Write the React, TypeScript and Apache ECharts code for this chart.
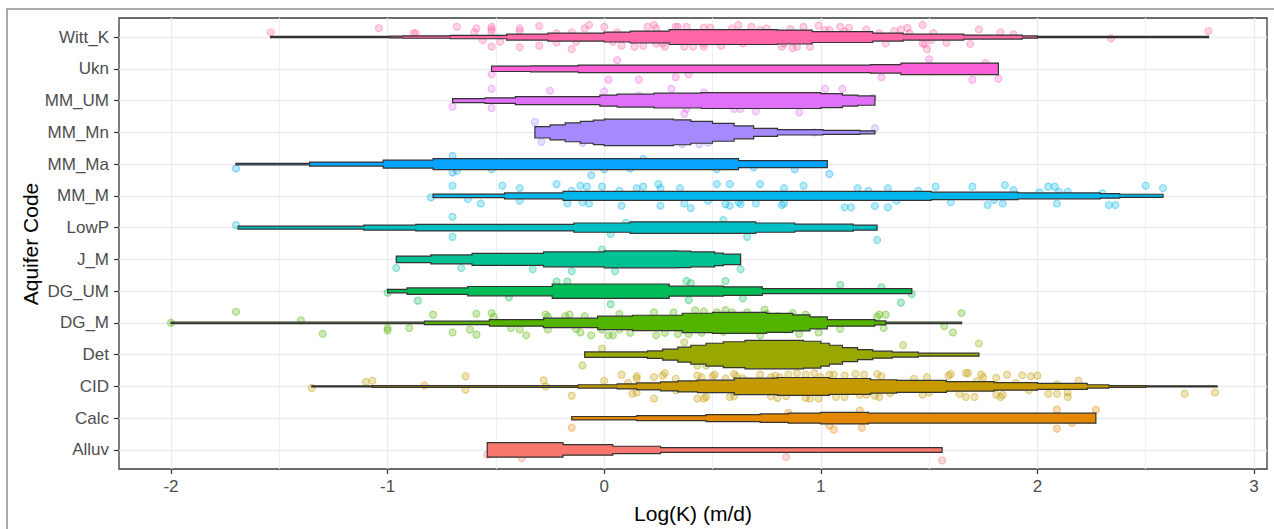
import React, { useEffect, useRef } from "react";
import * as echarts from "echarts";

// Aquifer codes, bottom to top
const categories = ["Alluv", "Calc", "CID", "Det", "DG_M", "DG_UM", "J_M", "LowP", "MM_M", "MM_Ma", "MM_Mn", "MM_UM", "Ukn", "Witt_K"];
const colors = ["#F8766D", "#E38900", "#C49A00", "#99A800", "#53B400", "#00BC56", "#00C094", "#00BFC4", "#00B6EB", "#06A4FF", "#A58AFF", "#DF70F8", "#FB61D7", "#FF66A8"];
const xTicks = [-2, -1, 0, 1, 2, 3];
const xMinor = [-1.5, -0.5, 0.5, 1.5, 2.5];

// Violin outlines: [log K, half width in 1/32 of a category step], held until the next knot
const violinAlluv = [[-0.54, 7.3], [-0.19, 5.3], [0.04, 3.7], [0.26, 2.4], [1.56, 0]];
const violinCalc = [[-0.15, 1.7], [0.15, 2.5], [0.47, 3.5], [0.72, 4.3], [0.85, 5], [1.0, 5.8], [1.22, 5], [2.27, 0]];
const violinCID = [[-1.35, 0.6], [-1.07, 0.9], [-0.12, 1.7], [0.06, 2.5], [0.15, 3.5], [0.26, 4.5], [0.34, 5.5], [0.43, 6.3], [0.6, 8.3], [0.8, 9], [1.04, 8], [1.23, 6.7], [1.35, 6], [1.58, 4.8], [1.8, 3.8], [2.0, 3], [2.23, 1.7], [2.33, 0.9], [2.5, 0.6], [2.83, 0]];
const violinDet = [[-0.09, 2.8], [0.2, 3.8], [0.27, 5.5], [0.34, 7.5], [0.4, 9.5], [0.47, 11.5], [0.55, 13], [0.65, 14.3], [0.92, 13.5], [1.0, 11.5], [1.04, 9.5], [1.1, 7], [1.17, 5], [1.24, 3.5], [1.33, 2.5], [1.45, 1.5], [1.73, 0]];
const violinDG_M = [[-2.0, 0.7], [-0.83, 1.7], [-0.53, 3.3], [-0.28, 4.8], [-0.03, 6.8], [0.13, 7.7], [0.36, 9.7], [0.5, 10.6], [0.75, 9.5], [0.87, 8], [0.95, 6], [1.03, 3.3], [1.25, 2], [1.3, 0.7], [1.65, 0]];
const violinDG_UM = [[-1.0, 1.7], [-0.91, 3.2], [-0.63, 4.7], [-0.24, 7.2], [0.3, 5], [0.55, 4.3], [0.73, 2.6], [1.42, 0]];
const violinJ_M = [[-0.96, 3.3], [-0.8, 4.5], [-0.61, 6], [-0.28, 7.5], [0.0, 8.5], [0.34, 8.3], [0.4, 7.5], [0.51, 6.3], [0.55, 5.2], [0.63, 0]];
const violinLowP = [[-1.69, 1.5], [-1.11, 2.5], [-0.87, 3.35], [-0.14, 4.65], [0.12, 5.8], [0.7, 4.65], [0.88, 3.5], [1.15, 2.5], [1.26, 0]];
const violinMM_M = [[-0.79, 1.8], [-0.46, 3], [-0.19, 4.6], [1.51, 3.7], [1.91, 3], [2.29, 2.3], [2.38, 1.6], [2.58, 0]];
const violinMM_Ma = [[-1.7, 0.7], [-1.36, 2], [-1.02, 4], [-0.79, 5.5], [0.62, 3.5], [1.03, 0]];
const violinMM_Mn = [[-0.32, 5.7], [-0.25, 7.5], [-0.18, 9.5], [-0.11, 11], [-0.05, 12.3], [0.0, 13.3], [0.32, 12.5], [0.4, 11], [0.5, 9], [0.6, 6.5], [0.69, 4], [0.8, 2.7], [1.01, 2], [1.18, 1.5], [1.25, 0]];
const violinMM_UM = [[-0.7, 2], [-0.55, 2.8], [-0.41, 4], [-0.02, 5.5], [0.06, 6.5], [0.23, 7.5], [0.45, 8], [1.0, 7], [1.1, 5.5], [1.17, 4.7], [1.25, 0]];
const violinUkn = [[-0.52, 2.7], [-0.34, 3], [-0.12, 3.8], [1.23, 4.3], [1.37, 5.8], [1.82, 0]];
const violinWitt_K = [[-1.54, 0.6], [-0.99, 0.9], [-0.93, 1.2], [-0.71, 1.7], [-0.45, 3], [-0.26, 4], [0.0, 5], [0.12, 6], [0.3, 7.5], [0.8, 7], [0.96, 5.5], [1.24, 4], [1.38, 3], [1.66, 2], [1.93, 1.1], [2.0, 0.6], [2.79, 0]];

// Individual measurements: [log K, jitter offset in category steps]
const pointsAlluv = [[-0.54, -0.15], [-0.38, -0.26], [0.84, -0.22], [1.56, -0.33]];
const pointsCalc = [[-0.15, -0.3], [0.85, 0.17], [1.04, -0.23], [1.06, -0.36], [1.18, 0.24], [1.19, -0.3], [2.09, 0.27], [2.09, -0.33], [2.16, -0.15], [2.27, 0.27]];
const pointsCID = [[-1.35, -0.05], [-1.1, 0.14], [-1.07, 0.18], [-0.83, 0.03], [-0.64, 0.32], [-0.64, -0.1], [-0.28, 0.19], [-0.27, 0.0], [-0.15, -0.29], [0.0, 0.18], [0.08, 0.37], [0.11, 0.11], [0.13, -0.23], [0.15, -0.19], [0.15, 0.32], [0.15, 0.25], [0.23, 0.29], [0.28, 0.42], [0.23, -0.38], [0.27, 0.34], [0.33, 0.24], [0.33, -0.12], [0.43, 0.34], [0.45, 0.29], [0.5, 0.32], [0.51, 0.37], [0.43, -0.38], [0.46, -0.38], [0.47, -0.33], [0.56, 0.25], [0.58, -0.33], [0.6, 0.39], [0.61, 0.32], [0.64, 0.25], [0.6, -0.31], [0.72, 0.37], [0.77, 0.29], [0.81, 0.29], [0.79, 0.34], [0.85, 0.37], [0.89, 0.42], [0.93, 0.37], [0.97, 0.42], [1.0, 0.29], [1.04, 0.37], [1.06, 0.37], [0.77, -0.31], [0.8, -0.36], [0.84, -0.31], [0.93, -0.36], [0.95, -0.38], [0.99, -0.38], [1.07, -0.33], [1.11, 0.34], [1.16, 0.39], [1.2, 0.37], [1.26, 0.39], [1.28, 0.32], [1.11, -0.33], [1.18, -0.26], [1.21, -0.26], [1.25, -0.29], [1.27, -0.33], [1.32, -0.21], [1.43, 0.24], [1.49, 0.29], [1.47, -0.26], [1.5, -0.19], [1.59, 0.34], [1.6, 0.39], [1.64, -0.23], [1.67, -0.33], [1.71, -0.33], [1.67, 0.42], [1.68, 0.42], [1.72, 0.16], [1.74, 0.37], [1.75, 0.29], [1.81, 0.27], [1.86, 0.37], [1.81, -0.26], [1.83, -0.33], [1.84, -0.26], [1.9, 0.11], [1.93, 0.35], [1.97, 0.32], [2.0, 0.34], [1.96, -0.12], [2.05, -0.23], [2.09, -0.23], [2.14, -0.19], [2.14, -0.33], [2.09, 0.06], [2.19, 0.18], [2.68, -0.23], [2.82, -0.19]];
const pointsDet = [[-0.01, 0.19], [-0.1, -0.34], [0.37, 0.39], [0.43, -0.34], [0.47, -0.34], [1.38, 0.3], [1.73, 0.35]];
const pointsDG_M = [[-2.0, 0.0], [-1.7, 0.35], [-1.4, 0.08], [-1.3, -0.34], [-1.0, -0.16], [-1.0, -0.24], [-0.9, -0.16], [-0.79, 0.26], [-0.7, -0.3], [-0.62, -0.21], [-0.59, -0.37], [-0.59, 0.29], [-0.52, 0.31], [-0.51, 0.19], [-0.43, -0.16], [-0.39, -0.21], [-0.36, -0.39], [-0.27, 0.26], [-0.26, 0.19], [-0.26, -0.21], [-0.18, 0.21], [-0.16, 0.26], [-0.13, -0.19], [-0.11, -0.3], [-0.09, 0.21], [-0.06, -0.39], [-0.01, -0.21], [0.02, -0.39], [0.04, -0.39], [0.07, 0.28], [0.07, -0.21], [0.12, -0.31], [0.24, -0.39], [0.28, -0.31], [0.23, 0.33], [0.32, 0.33], [0.34, -0.35], [0.39, -0.35], [0.42, 0.4], [0.46, 0.36], [0.45, -0.31], [0.52, 0.33], [0.56, 0.4], [0.59, 0.33], [0.55, -0.28], [0.66, 0.33], [0.72, -0.39], [0.74, 0.42], [0.75, 0.28], [0.8, 0.21], [0.84, -0.21], [0.87, 0.31], [0.9, -0.35], [0.93, 0.26], [0.99, -0.3], [1.09, -0.19], [1.26, 0.19], [1.27, 0.26], [1.3, 0.26], [1.29, -0.16], [1.57, -0.1], [1.61, -0.3], [1.65, 0.31]];
const pointsDG_UM = [[-1.0, -0.05], [-0.86, -0.3], [-0.44, -0.19], [-0.22, 0.3], [-0.17, 0.3], [0.03, -0.41], [0.38, 0.32], [0.4, 0.25], [0.39, -0.28], [0.56, 0.32], [0.64, -0.22], [1.09, 0.2], [1.28, 0.12], [1.42, -0.09], [1.37, -0.36]];
const pointsJ_M = [[-0.96, -0.27], [-0.66, -0.27], [-0.33, -0.31], [-0.15, -0.37], [-0.01, 0.31], [0.05, -0.37], [0.63, -0.31]];
const pointsLowP = [[-1.7, 0.08], [-0.7, 0.34], [-0.7, -0.29], [0.03, -0.2], [0.1, 0.15], [0.55, 0.24], [0.66, -0.29], [1.26, -0.39]];
const pointsMM_M = [[-0.8, -0.05], [-0.7, 0.32], [-0.63, -0.1], [-0.57, -0.24], [-0.47, 0.32], [-0.39, 0.24], [-0.39, -0.15], [-0.22, 0.37], [-0.17, -0.24], [-0.15, 0.16], [-0.11, 0.32], [-0.08, 0.29], [-0.1, -0.2], [-0.07, -0.24], [-0.01, 0.29], [0.07, 0.16], [0.08, -0.31], [0.15, 0.24], [0.18, 0.29], [0.25, 0.37], [0.26, 0.24], [0.26, -0.31], [0.35, 0.24], [0.37, -0.24], [0.4, -0.39], [0.52, 0.37], [0.58, 0.37], [0.48, -0.15], [0.56, -0.26], [0.58, -0.31], [0.62, -0.2], [0.63, -0.26], [0.7, -0.24], [0.72, 0.37], [0.83, 0.24], [0.83, -0.24], [0.82, -0.29], [0.92, 0.32], [1.11, -0.36], [1.14, -0.36], [1.17, 0.24], [1.22, 0.16], [1.31, 0.24], [1.25, -0.32], [1.31, -0.36], [1.35, -0.15], [1.45, 0.16], [1.53, 0.29], [1.6, -0.2], [1.7, 0.29], [1.77, -0.29], [1.8, -0.13], [1.84, -0.24], [1.85, 0.34], [1.89, 0.18], [2.01, 0.11], [2.05, 0.29], [2.08, 0.29], [2.09, -0.24], [2.1, 0.13], [2.14, 0.13], [2.3, 0.08], [2.33, -0.29], [2.36, -0.29], [2.5, 0.32], [2.58, 0.24]];
const pointsMM_Ma = [[-1.7, -0.14], [-0.7, 0.26], [-0.7, -0.26], [-0.68, -0.21], [-0.52, -0.16], [-0.06, -0.35], [0.0, -0.16], [0.12, -0.14], [0.18, 0.16], [0.52, -0.16], [0.69, -0.1], [0.88, -0.16], [1.04, -0.31]];
const pointsMM_Mn = [[-0.32, 0.33], [-0.29, -0.3], [-0.1, -0.33], [0.36, -0.37], [0.44, -0.37], [0.48, -0.33], [0.97, 0.0], [1.25, 0.13]];
const pointsMM_UM = [[-0.7, -0.19], [-0.52, 0.37], [-0.52, -0.23], [-0.25, 0.31], [0.0, 0.29], [0.16, 0.16], [0.31, 0.37], [0.46, 0.26], [0.38, -0.26], [0.37, -0.42], [0.6, -0.26], [0.63, -0.26], [0.7, -0.34], [0.9, -0.37], [1.02, 0.37], [1.1, 0.37], [1.24, 0.08]];
const pointsUkn = [[-0.52, -0.17], [0.02, -0.34], [0.06, 0.27], [0.16, -0.34], [0.33, -0.26], [0.39, -0.17], [1.28, -0.26], [1.5, 0.3], [1.7, -0.34], [1.76, 0.18], [1.82, -0.31]];
const pointsWitt_K = [[-1.54, 0.15], [-1.04, 0.28], [-0.88, 0.12], [-0.87, 0.12], [-0.68, 0.32], [-0.59, 0.27], [-0.6, 0.15], [-0.56, -0.1], [-0.52, 0.32], [-0.52, 0.24], [-0.52, 0.17], [-0.52, -0.3], [-0.48, -0.15], [-0.39, 0.27], [-0.39, 0.19], [-0.39, -0.32], [-0.3, 0.35], [-0.3, -0.27], [-0.22, 0.12], [-0.22, -0.17], [-0.15, 0.15], [-0.15, -0.38], [-0.13, -0.15], [-0.09, 0.27], [-0.07, 0.38], [0.0, 0.32], [0.04, -0.15], [0.06, 0.15], [0.08, -0.27], [0.14, -0.3], [0.18, -0.27], [0.2, 0.32], [0.23, 0.38], [0.24, 0.27], [0.24, -0.2], [0.27, -0.2], [0.28, -0.3], [0.33, 0.32], [0.34, 0.32], [0.38, 0.32], [0.37, -0.3], [0.41, -0.3], [0.46, -0.3], [0.46, -0.2], [0.46, 0.3], [0.49, 0.3], [0.54, -0.27], [0.59, 0.27], [0.62, 0.38], [0.64, -0.2], [0.68, 0.32], [0.72, 0.22], [0.75, 0.27], [0.82, -0.3], [0.83, -0.2], [0.87, -0.35], [0.89, -0.3], [0.86, 0.25], [0.92, 0.32], [0.95, -0.3], [0.99, 0.36], [1.02, 0.22], [1.04, 0.22], [1.09, 0.32], [1.11, 0.17], [1.13, 0.29], [1.21, 0.24], [1.27, 0.12], [1.3, -0.2], [1.34, 0.19], [1.37, 0.24], [1.4, 0.29], [1.41, 0.12], [1.47, 0.38], [1.47, -0.2], [1.49, -0.38], [1.48, -0.22], [1.52, 0.12], [1.51, -0.09], [1.58, -0.18], [1.69, -0.22], [1.73, 0.24], [1.83, 0.15], [1.89, 0.09], [2.34, -0.04], [2.79, 0.19]];

const violins = [violinAlluv, violinCalc, violinCID, violinDet, violinDG_M, violinDG_UM, violinJ_M, violinLowP, violinMM_M, violinMM_Ma, violinMM_Mn, violinMM_UM, violinUkn, violinWitt_K];
const points = [pointsAlluv, pointsCalc, pointsCID, pointsDet, pointsDG_M, pointsDG_UM, pointsJ_M, pointsLowP, pointsMM_M, pointsMM_Ma, pointsMM_Mn, pointsMM_UM, pointsUkn, pointsWitt_K];

const FONT = '"Liberation Sans", Arial, Helvetica, sans-serif';

function rgba(hex: string, a: number) {
  const n = parseInt(hex.slice(1), 16);
  return `rgba(${n >> 16},${(n >> 8) & 255},${n & 255},${a})`;
}

export default function App() {
  const ref = useRef<HTMLDivElement>(null);

  useEffect(() => {
    if (!ref.current) return;
    const chart = echarts.init(ref.current, null, { renderer: "svg" });
    const catIdx = categories.map((_, i) => i);

    const scatterSeries = categories.map((name, i) => ({
      type: "scatter",
      name,
      z: 3,
      symbol: "circle",
      symbolSize: 7,
      silent: true,
      itemStyle: { color: rgba(colors[i], 0.35), borderColor: rgba(colors[i], 0.5), borderWidth: 1.2 },
      data: points[i].map(([x, dy]) => [x, i + dy]),
    }));

    chart.setOption({
      animation: false,
      backgroundColor: "#ffffff",
      grid: {
        left: 119,
        right: 7,
        top: 18,
        bottom: 60,
        show: true,
        borderColor: "#3a3a3a",
        borderWidth: 1.3,
        backgroundColor: "#ffffff",
        containLabel: false,
        outerBoundsMode: "none",
      },
      xAxis: {
        type: "value",
        min: -2.24,
        max: 3.06,
        axisLine: { show: false, onZero: false },
        axisTick: { show: true, length: 5, customValues: xTicks, lineStyle: { color: "#333333", width: 1.2 } },
        axisLabel: { customValues: xTicks, color: "#4d4d4d", fontSize: 17, fontFamily: FONT, margin: 9 },
        splitLine: { show: false },
      },
      yAxis: {
        type: "value",
        min: -0.6,
        max: 13.6,
        axisLine: { show: false, onZero: false },
        axisTick: { show: true, length: 5, customValues: catIdx, lineStyle: { color: "#333333", width: 1.2 } },
        axisLabel: {
          customValues: catIdx,
          formatter: (v: number) => categories[Math.round(v)] ?? "",
          color: "#4d4d4d",
          fontSize: 17,
          fontFamily: FONT,
          margin: 10,
        },
        splitLine: { show: false },
      },
      graphic: [
        {
          type: "rect",
          silent: true,
          z: 100,
          shape: { x: 7, y: 9, width: 1320, height: 620 },
          style: { fill: "none", stroke: "#8f8f8f", lineWidth: 1.5 },
        },
        {
          type: "text",
          x: 693,
          y: 513,
          style: {
            text: "Log(K) (m/d)",
            font: `21px ${FONT}`,
            fill: "#000000",
            align: "center",
            verticalAlign: "middle",
            textAlign: "center",
            textVerticalAlign: "middle",
          },
        },
        {
          type: "text",
          x: 30,
          y: 244,
          rotation: Math.PI / 2,
          style: {
            text: "Aquifer Code",
            font: `21px ${FONT}`,
            fill: "#000000",
            align: "center",
            verticalAlign: "middle",
            textAlign: "center",
            textVerticalAlign: "middle",
          },
        },
      ],
      series: [
        {
          type: "line",
          data: [],
          z: 1,
          silent: true,
          markLine: {
            z: 1,
            silent: true,
            symbol: ["none", "none"],
            label: { show: false },
            emphasis: { disabled: true },
            lineStyle: { color: "#ebebeb", width: 1.3, type: "solid" },
            data: [
              ...xMinor.map((v) => ({ xAxis: v, lineStyle: { color: "#efefef", width: 1.1, type: "solid" } })),
              ...xTicks.map((v) => ({ xAxis: v })),
              ...catIdx.map((v) => ({ yAxis: v })),
            ],
          },
        },
        ...scatterSeries,
        {
          type: "custom",
          z: 10,
          silent: true,
          encode: { x: 0, y: 1 },
          data: categories.map((_, i) => [violins[i][0][0], i]),
          renderItem: (params: any, api: any) => {
            const i = params.dataIndex;
            const prof = violins[i];
            const top: number[][] = [];
            const bottom: number[][] = [];
            for (let k = 0; k < prof.length - 1; k++) {
              const x0 = prof[k][0];
              const x1 = prof[k + 1][0];
              const h = prof[k][1] / 32;
              top.push(api.coord([x0, i + h]), api.coord([x1, i + h]));
              bottom.push(api.coord([x0, i - h]), api.coord([x1, i - h]));
            }
            const pts = top.concat(bottom.reverse());
            return {
              type: "polygon",
              shape: { points: pts },
              style: { fill: colors[i], stroke: "#333333", lineWidth: 1.2 },
            };
          },
        },
      ],
    });

    return () => chart.dispose();
  }, []);

  return (
    <div
      ref={ref}
      style={{ position: "absolute", left: 0, top: 0, width: 1274, height: 529, background: "#ffffff" }}
    />
  );
}
